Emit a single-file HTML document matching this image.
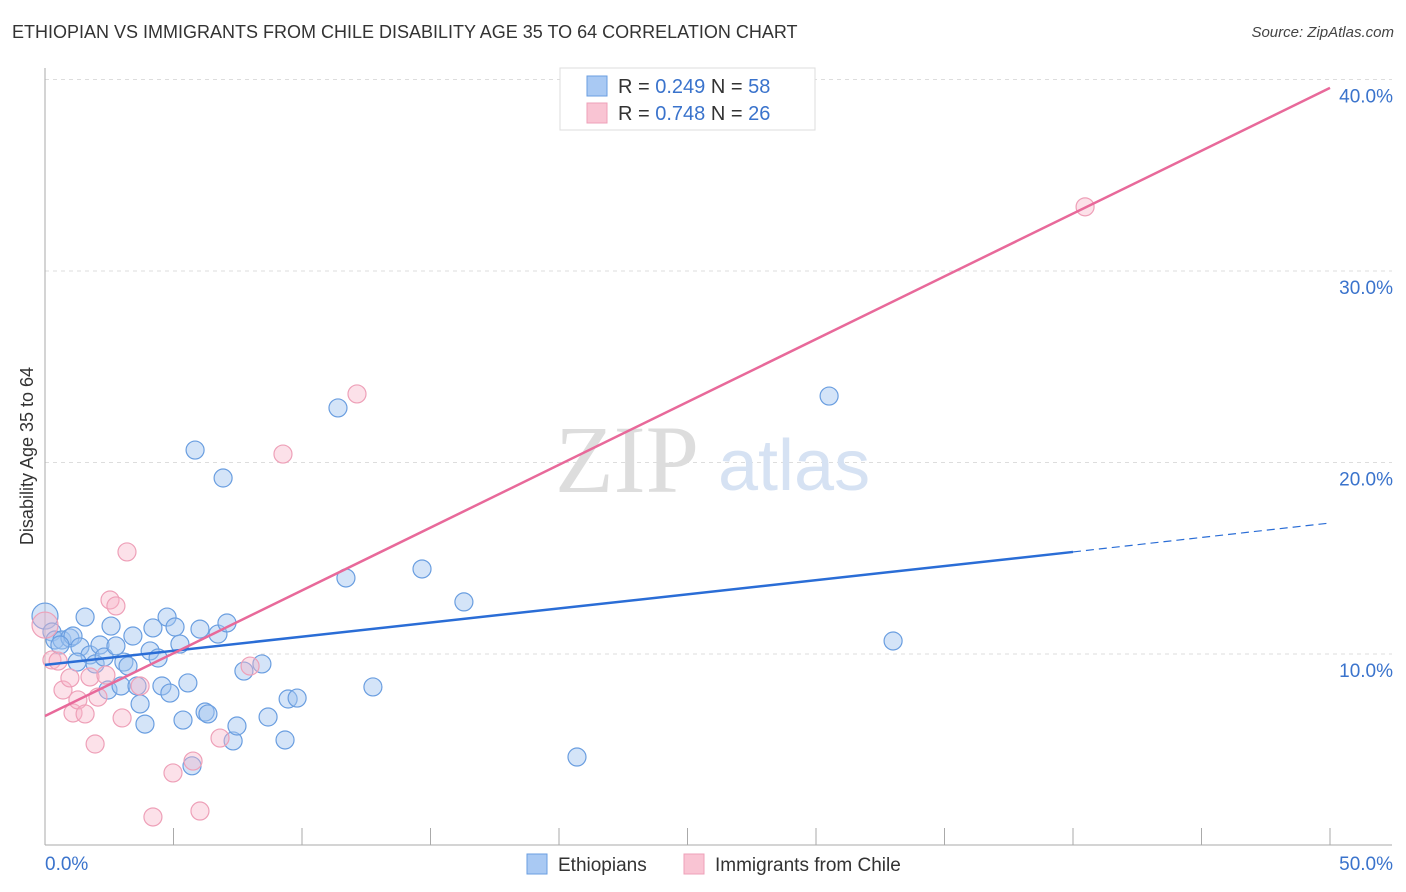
<!DOCTYPE html>
<html><head><meta charset="utf-8">
<style>
body{margin:0;background:#fff;font-family:"Liberation Sans",sans-serif;}
#wrap{position:relative;width:1406px;height:892px;overflow:hidden;}
.t{position:absolute;white-space:nowrap;}
</style></head>
<body>
<div id="wrap">
<div class="t" style="left:12px;top:22px;font-size:18px;color:#333;">ETHIOPIAN VS IMMIGRANTS FROM CHILE DISABILITY AGE 35 TO 64 CORRELATION CHART</div>
<div class="t" style="right:12px;top:24px;font-size:15px;color:#444;font-style:italic;">Source: ZipAtlas.com</div>
<svg id="svg" width="1406" height="892" style="position:absolute;left:0;top:0"></svg>
</div>
<script>
const xTicks=[0,5,10,15,20,25,30,35,40,45,50];
const yTicks=[10,20,30,40];
const blueX=[0,0.27,0.39,0.66,0.97,1.09,1.56,1.36,1.75,1.25,1.95,2.14,2.30,2.45,2.57,2.76,2.96,3.07,3.23,3.42,3.58,3.70,3.89,4.09,4.20,4.40,4.55,4.75,4.86,5.06,5.25,5.37,5.56,5.72,5.84,6.03,6.23,6.34,6.73,6.93,7.08,7.32,7.47,7.74,8.44,8.68,9.34,9.46,9.81,11.40,11.71,12.76,14.67,16.30,20.70,30.51,33.00,0.58];
const blueY=[11.98,11.15,10.73,10.73,10.84,10.94,11.93,10.37,9.95,9.58,9.48,10.47,9.84,8.12,11.46,10.42,8.33,9.58,9.37,10.94,8.33,7.39,6.34,10.16,11.36,9.79,8.33,11.93,7.96,11.41,10.52,6.55,8.49,4.16,20.65,11.30,6.97,6.87,11.04,19.19,11.62,5.46,6.24,9.11,9.48,6.71,5.51,7.65,7.70,22.85,13.97,8.28,14.44,12.72,4.62,23.47,10.68,10.47];
const pinkX=[0,0.27,0.51,0.70,0.97,1.09,1.28,1.56,1.75,1.95,2.06,2.37,2.53,2.76,3.00,3.19,3.70,4.20,4.98,5.76,6.03,6.81,7.98,9.26,12.14,40.47];
const pinkY=[11.51,9.69,9.63,8.12,8.75,6.92,7.60,6.87,8.80,5.30,7.75,8.90,12.82,12.51,6.66,15.33,8.33,1.49,3.79,4.41,1.80,5.61,9.37,20.44,23.58,33.35];
const blueLine=[[0,9.43],[40,15.33],[50,16.84]];
const pinkLine=[[0,6.76],[50,39.56]];
const X=v=>45+v*25.7, Y=v=>845.5-v*19.15;
const svg=document.getElementById('svg');
function mk(tag,attrs,name){const e=document.createElementNS('http://www.w3.org/2000/svg',tag);for(const k in attrs)e.setAttribute(k,attrs[k]);


svg.appendChild(e);return e;}
yTicks.forEach(v=>{mk('line',{x1:45,x2:1392,y1:Y(v),y2:Y(v),stroke:'#ddd','stroke-dasharray':'4,4'},'gridline');
const t=mk('text',{x:1393,y:Y(v)+23,'text-anchor':'end','font-size':19,fill:'#3a73cc'},'y-tick-label');t.textContent=v.toFixed(1)+'%';});
mk('line',{x1:45,x2:45,y1:68,y2:845,stroke:'#aaa'},'y-axis-line');
mk('line',{x1:45,x2:1392,y1:845,y2:845,stroke:'#aaa'},'x-axis-line');
xTicks.forEach(v=>{if(v>0)mk('line',{x1:X(v),x2:X(v),y1:828,y2:845,stroke:'#aaa'},'x-tick');});
let t=mk('text',{x:45,y:870,'font-size':19,fill:'#3a73cc'},'x-tick-label');t.textContent='0.0%';
t=mk('text',{x:1393,y:870,'text-anchor':'end','font-size':19,fill:'#3a73cc'},'x-tick-label');t.textContent='50.0%';
t=mk('text',{x:0,y:0,'font-size':18,fill:'#333','text-anchor':'middle',transform:'translate(33,456) rotate(-90)'},'y-axis-title');t.textContent='Disability Age 35 to 64';
t=mk('text',{x:555,y:492,'font-size':96,fill:'#ddd','font-family':'Liberation Serif'},'watermark-zip');t.textContent='ZIP';
t=mk('text',{x:718,y:490,'font-size':72,fill:'#d6e2f3'},'watermark-atlas');t.textContent='atlas';
blueX.forEach((v,i)=>{const big=i==0;mk('circle',{cx:X(v),cy:Y(blueY[i]),r:big?13:9,fill:'rgba(160,195,240,0.45)',stroke:'#6a9ee0','stroke-width':1.2},'ethiopian-point');});
pinkX.forEach((v,i)=>{const big=i==0;mk('circle',{cx:X(v),cy:Y(pinkY[i]),r:big?13:9,fill:'rgba(248,180,200,0.4)',stroke:'#eea0b8','stroke-width':1.2},'chile-point');});
mk('line',{x1:X(blueLine[0][0]),y1:Y(blueLine[0][1]),x2:X(blueLine[1][0]),y2:Y(blueLine[1][1]),stroke:'#2a6dd6','stroke-width':2.5},'ethiopian-trend-line');
mk('line',{x1:X(blueLine[1][0]),y1:Y(blueLine[1][1]),x2:X(blueLine[2][0]),y2:Y(blueLine[2][1]),stroke:'#2a6dd6','stroke-width':1.2,'stroke-dasharray':'8,5'},'ethiopian-trend-extension');
mk('line',{x1:X(pinkLine[0][0]),y1:Y(pinkLine[0][1]),x2:X(pinkLine[1][0]),y2:Y(pinkLine[1][1]),stroke:'#e8699a','stroke-width':2.5},'chile-trend-line');
// legend box
mk('rect',{x:560,y:68,width:255,height:62,fill:'#fff',stroke:'#ddd'},'legend-box');
[['#a9c9f3','#6a9ee0','0.249','58',86],['#f9c4d3','#eea0b8','0.748','26',113]].forEach(r=>{
mk('rect',{x:587,y:r[4]-10,width:20,height:20,fill:r[0],stroke:r[1]},'legend-swatch');
let a=mk('text',{x:618,y:r[4]+7,'font-size':20,fill:'#333'},'legend-entry');
a.innerHTML='R = <tspan fill="#3a73cc">'+r[2]+'</tspan>    N = <tspan fill="#3a73cc">'+r[3]+'</tspan>';
a.setAttribute('xml:space','preserve');});
// bottom legend
mk('rect',{x:527,y:854,width:20,height:20,fill:'#a9c9f3',stroke:'#6a9ee0'},'bottom-legend-swatch');
t=mk('text',{x:558,y:871,'font-size':19,fill:'#333'},'bottom-legend-ethiopians');t.textContent='Ethiopians';
mk('rect',{x:684,y:854,width:20,height:20,fill:'#f9c4d3',stroke:'#eea0b8'},'bottom-legend-swatch');
t=mk('text',{x:715,y:871,'font-size':19,fill:'#333'},'bottom-legend-chile');t.textContent='Immigrants from Chile';
</script>
</body></html>
